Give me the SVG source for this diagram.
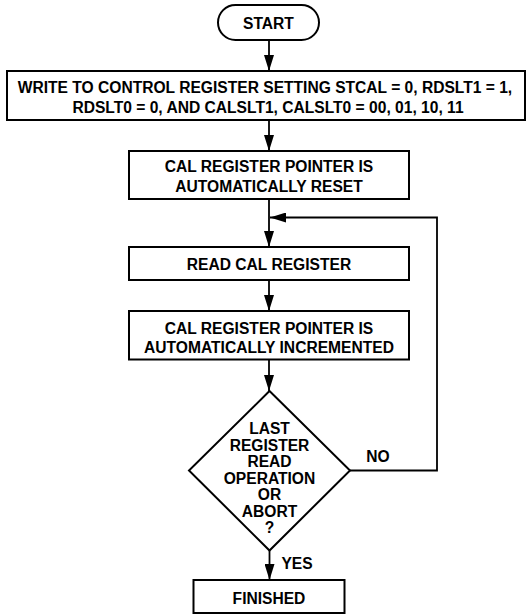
<svg xmlns="http://www.w3.org/2000/svg" width="529" height="615" viewBox="0 0 529 615">
<defs>
<style>
.box{fill:#fff;stroke:#000;stroke-width:2}
.t{font-family:"Liberation Sans",Arial,Helvetica,sans-serif;font-weight:bold;font-size:15.6px;fill:#000;text-anchor:middle}
.c{fill:none;stroke:#000;stroke-width:1.8}
</style>
<marker id="ah" markerWidth="16" markerHeight="10" refX="16" refY="5" orient="auto" markerUnits="userSpaceOnUse">
<path d="M0,0 L16,5 L0,10 Z" fill="#000"/>
</marker>
</defs>
<rect width="529" height="615" fill="#fff"/>
<g id="connectors">
<line class="c" x1="269" y1="40" x2="269" y2="71" marker-end="url(#ah)"/>
<line class="c" x1="269" y1="120" x2="269" y2="151" marker-end="url(#ah)"/>
<line class="c" x1="269" y1="199" x2="269" y2="247" marker-end="url(#ah)"/>
<line class="c" x1="269" y1="280" x2="269" y2="311" marker-end="url(#ah)"/>
<line class="c" x1="269" y1="359.5" x2="269" y2="391" marker-end="url(#ah)"/>
<line class="c" x1="269.5" y1="550.5" x2="269.5" y2="580" marker-end="url(#ah)"/>
<polyline class="c" points="350,470.5 437,470.5 437,217.5 270,217.5" marker-end="url(#ah)"/>
<text class="t" x="378" y="462.3">NO</text>
<text class="t" x="297" y="569">YES</text>
</g>
<g id="start">
<rect class="box" x="218" y="5" width="101" height="35" rx="17.5" ry="17.5"/>
<text class="t" x="268.5" y="29.3">START</text>
</g>
<g id="write">
<rect class="box" x="7" y="71" width="518" height="49"/>
<text class="t" x="265" y="92.5">WRITE TO CONTROL REGISTER SETTING STCAL = 0, RDSLT1 = 1,</text>
<text class="t" x="268" y="112.5">RDSLT0 = 0, AND CALSLT1, CALSLT0 = 00, 01, 10, 11</text>
</g>
<g id="reset">
<rect class="box" x="129" y="151" width="280" height="48"/>
<text class="t" x="269" y="172.3">CAL REGISTER POINTER IS</text>
<text class="t" x="269" y="191.5">AUTOMATICALLY RESET</text>
</g>
<g id="read">
<rect class="box" x="129" y="247" width="280" height="33"/>
<text class="t" x="269" y="269.5">READ CAL REGISTER</text>
</g>
<g id="increment">
<rect class="box" x="129" y="311" width="280" height="48.5"/>
<text class="t" x="269" y="334">CAL REGISTER POINTER IS</text>
<text class="t" x="269" y="352.5">AUTOMATICALLY INCREMENTED</text>
</g>
<g id="decision">
<polygon class="box" points="269.5,391 350,470.5 269.5,550.5 189,470.5"/>
<text class="t" x="269.5" y="434">LAST</text>
<text class="t" x="269.5" y="450.6">REGISTER</text>
<text class="t" x="269.5" y="467.1">READ</text>
<text class="t" x="269.5" y="483.7">OPERATION</text>
<text class="t" x="269.5" y="500.2">OR</text>
<text class="t" x="269.5" y="516.7">ABORT</text>
<text class="t" x="269.5" y="533.3">?</text>
</g>
<g id="finished">
<rect class="box" x="193.5" y="580" width="151" height="33"/>
<text class="t" x="269" y="604.3">FINISHED</text>
</g>
</svg>
